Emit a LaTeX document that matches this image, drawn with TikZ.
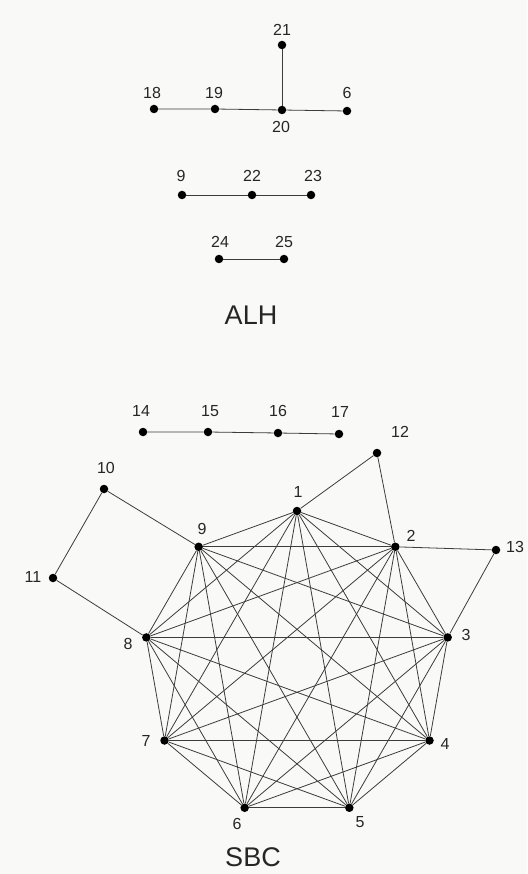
\documentclass[tikz,border=0pt]{standalone}
\usepackage{fontspec}
\setmainfont{Liberation Sans}
\definecolor{paper}{RGB}{249,249,247}
\definecolor{ink}{RGB}{60,60,60}
\begin{document}
\begin{tikzpicture}[x=1pt,y=-1pt,
  dot/.style={circle,fill=black,inner sep=0pt,minimum size=8.5pt},
  lbl/.style={font=\fontsize{16}{16}\selectfont,inner sep=0pt,text=black!85},
  title/.style={font=\fontsize{27}{27}\selectfont,inner sep=0pt,text=black!85},
  edge/.style={draw=ink,line width=0.8pt}]
\fill[paper] (0,0) rectangle (527,874);
\useasboundingbox (0,0) rectangle (527,874);
% ALH component 1
\node[dot] (a21) at (282,45) {};
\node[dot] (a18) at (154,109) {};
\node[dot] (a19) at (215,109) {};
\node[dot] (a20) at (282,110) {};
\node[dot] (a6) at (347,111) {};
\node[lbl] (la21) at (282,30) {21};
\node[lbl] (la18) at (152,93) {18};
\node[lbl] (la19) at (214,93) {19};
\node[lbl] (la20) at (281,127) {20};
\node[lbl] (la6) at (347,93) {6};
\draw[edge] (a18) -- (a19) -- (a20) -- (a6);
\draw[edge] (a21) -- (a20);
% component 2
\node[dot] (a9) at (182,195) {};
\node[dot] (a22) at (252,195) {};
\node[dot] (a23) at (311,195) {};
\node[lbl] (la9) at (181,176) {9};
\node[lbl] (la22) at (252,176) {22};
\node[lbl] (la23) at (313,176) {23};
\draw[edge] (a9) -- (a22) -- (a23);
% component 3
\node[dot] (a24) at (219,259) {};
\node[dot] (a25) at (284,259) {};
\node[lbl] (la24) at (220,242) {24};
\node[lbl] (la25) at (284,242) {25};
\draw[edge] (a24) -- (a25);
\node[title] (alh) at (251,315) {ALH};
% SBC
\node[dot] (b14) at (143,432) {};
\node[dot] (b15) at (208,432) {};
\node[dot] (b16) at (278,433) {};
\node[dot] (b17) at (339,434) {};
\node[lbl] (lb14) at (141,411) {14};
\node[lbl] (lb15) at (210,411) {15};
\node[lbl] (lb16) at (278,411) {16};
\node[lbl] (lb17) at (340,412) {17};
\draw[edge] (b14) -- (b15) -- (b16) -- (b17);
\foreach \i/\a in {1/90,2/50,3/10,4/-30,5/-70,6/-110,7/-150,8/170,9/130}{
  \node[dot] (n\i) at ({297+153*cos(\a)},{664-153*sin(\a)}) {};
}
\foreach \i in {1,...,9}{
  \foreach \j in {1,...,9}{
    \ifnum\i<\j \draw[edge] (n\i) -- (n\j); \fi
  }
}
\node[dot] (n10) at (104,489) {};
\node[dot] (n11) at (53,578) {};
\node[dot] (n12) at (377,453) {};
\node[dot] (n13) at (496,550) {};
\draw[edge] (n10) -- (n9);
\draw[edge] (n10) -- (n11) -- (n8);
\draw[edge] (n12) -- (n1);
\draw[edge] (n12) -- (n2);
\draw[edge] (n2) -- (n13) -- (n3);
\node[lbl] (l1) at (298,492) {1};
\node[lbl] (l2) at (411,536) {2};
\node[lbl] (l3) at (466,635) {3};
\node[lbl] (l4) at (445,744) {4};
\node[lbl] (l5) at (360,822) {5};
\node[lbl] (l6) at (237,824) {6};
\node[lbl] (l7) at (146,741) {7};
\node[lbl] (l8) at (128,644) {8};
\node[lbl] (l9) at (202,529) {9};
\node[lbl] (l10) at (106,468) {10};
\node[lbl] (l11) at (33,577) {11};
\node[lbl] (l12) at (400,432) {12};
\node[lbl] (l13) at (515,547) {13};
\node[title] (sbc) at (253,857) {SBC};
\end{tikzpicture}
\end{document}
